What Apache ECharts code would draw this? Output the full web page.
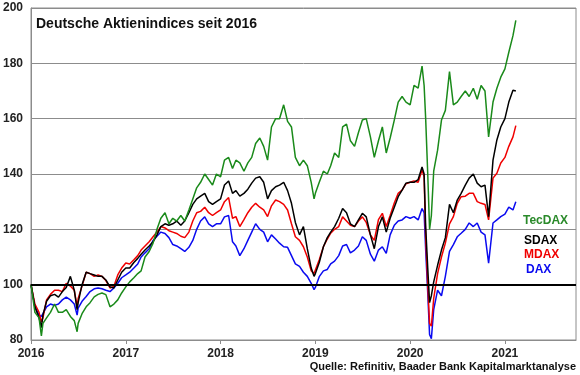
<!DOCTYPE html>
<html>
<head>
<meta charset="utf-8">
<script src="https://cdn.jsdelivr.net/npm/echarts@6/dist/echarts.min.js"></script>
<style>
  html, body { margin: 0; padding: 0; background: #fff; }
  #chart { width: 580px; height: 375px; }
</style>
</head>
<body>
<div id="chart"></div>
<script>
// Index values rebased to 100 at start of 2016 (roughly semi-monthly)
const dates = [
  '2016-01-01', '2016-01-16', '2016-02-01', '2016-02-10', '2016-02-16', '2016-03-01', '2016-03-16',
  '2016-04-01', '2016-04-16', '2016-05-01', '2016-05-16', '2016-06-01', '2016-06-16', '2016-06-27',
  '2016-07-01', '2016-07-16', '2016-08-01', '2016-08-16', '2016-09-01', '2016-09-16', '2016-10-01',
  '2016-10-16', '2016-11-01', '2016-11-16', '2016-12-01', '2016-12-16',
  '2017-01-01', '2017-01-16', '2017-02-01', '2017-02-16', '2017-03-01', '2017-03-16', '2017-04-01',
  '2017-04-16', '2017-05-01', '2017-05-16', '2017-06-01', '2017-06-16', '2017-07-01', '2017-07-16',
  '2017-08-01', '2017-08-16', '2017-09-01', '2017-09-16', '2017-10-01', '2017-10-16', '2017-11-01',
  '2017-11-16', '2017-12-01', '2017-12-16',
  '2018-01-01', '2018-01-16', '2018-02-01', '2018-02-16', '2018-03-01', '2018-03-16', '2018-04-01',
  '2018-04-16', '2018-05-01', '2018-05-16', '2018-06-01', '2018-06-16', '2018-07-01', '2018-07-16',
  '2018-08-01', '2018-08-16', '2018-09-01', '2018-09-16', '2018-10-01', '2018-10-16', '2018-11-01',
  '2018-11-16', '2018-12-01', '2018-12-16', '2018-12-27',
  '2019-01-01', '2019-01-16', '2019-02-01', '2019-02-16', '2019-03-01', '2019-03-16', '2019-04-01',
  '2019-04-16', '2019-05-01', '2019-05-16', '2019-06-01', '2019-06-16', '2019-07-01', '2019-07-16',
  '2019-08-01', '2019-08-16', '2019-09-01', '2019-09-16', '2019-10-01', '2019-10-16', '2019-11-01',
  '2019-11-16', '2019-12-01', '2019-12-16',
  '2020-01-01', '2020-01-16', '2020-02-01', '2020-02-16', '2020-02-24', '2020-03-01', '2020-03-09',
  '2020-03-16', '2020-03-23', '2020-04-01', '2020-04-16', '2020-05-01', '2020-05-16', '2020-06-01',
  '2020-06-16', '2020-07-01', '2020-07-16', '2020-08-01', '2020-08-16', '2020-09-01', '2020-09-16',
  '2020-10-01', '2020-10-16', '2020-10-30', '2020-11-16', '2020-12-01', '2020-12-16',
  '2021-01-01', '2021-01-16', '2021-02-01', '2021-02-12'
]

const tecdax = [
  100, 90, 88, 81.5, 86, 88, 90, 93, 90, 90, 91, 88.5, 87, 83, 86, 89.5, 92, 93.5, 95.6, 96.5, 97, 96.4, 92, 93, 94.5, 97,
  99.2, 101, 102.5, 104, 105, 110, 112, 115, 120, 124, 126, 122, 124, 123, 125, 123, 127, 131, 135, 137, 140, 138, 136, 140,
  139, 145, 146, 142, 145, 144, 141, 144, 146, 151, 153, 150, 145, 157, 160, 160, 165, 159, 157, 146, 143, 145, 143, 137, 131,
  133, 137, 141, 140, 143, 147.6, 146, 157, 158, 152, 150, 155, 159.5, 160, 153.4, 146, 152, 157, 147.6, 153, 159.5, 166, 168, 166,
  165, 172, 171, 179, 172, 160, 140, 120, 125, 141, 148.6, 159.5, 163, 177, 165, 166, 168, 170, 168, 171, 167, 172, 170, 153.4, 166, 171, 175,
  178, 184, 190, 195.5
]
const sdax = [
  100, 92, 88, 84.5, 89, 94, 96, 96.5, 95.5, 97.5, 99, 103, 98, 91, 93.5, 100, 104.5, 104, 103.5, 103, 103, 101.7, 99.2, 98.8, 101.7, 104.5,
  106, 106, 108, 109.5, 111, 112.5, 114, 115.5, 118, 121, 122, 121.5, 122, 123, 121.5, 123, 126, 129, 131, 132, 133, 130, 129, 130,
  131, 136, 137.5, 133, 134, 132, 133, 134.5, 136.7, 138.5, 139, 137, 131, 134, 135.4, 136, 137, 134, 129.4, 122.5, 118, 121, 113, 106, 103,
  104, 108, 113.7, 117, 119, 121, 124, 127.5, 126, 122, 121, 123.4, 125.8, 124.5, 118, 113, 121, 124.5, 119, 124, 128, 131.8, 134.2, 136.7,
  137, 137, 138, 142.5, 140, 121, 106, 93.5, 96, 101, 107, 112.5, 117, 129, 126, 130.6, 133, 136, 138.5, 140, 136.7, 135.4, 136, 124.6, 145, 152.3, 157,
  160, 166, 170.3, 170
]
const mdax = [
  100, 93, 90, 86.5, 88, 94.5, 96.5, 98, 98, 97.5, 100.5, 99.5, 98, 92, 95, 99.5, 104.5, 104, 103, 103.5, 103, 101.5, 98.8, 99.4, 103.5, 106,
  107.8, 107.5, 109, 110.5, 112.5, 114, 115.5, 117.3, 119, 121, 120.5, 119.5, 119, 118.5, 117.5, 117, 119, 123, 126, 126.5, 128, 126, 125, 126,
  127, 130, 131.5, 124, 124.6, 121, 123.5, 126, 128, 129.4, 128, 127, 124.6, 128.5, 130.6, 130, 129, 127, 122, 117.3, 116, 113.7, 110, 105, 104,
  104.5, 109, 113.7, 116.5, 118.6, 120, 121, 124.5, 123, 121.5, 121, 123, 124.5, 122.5, 118, 116, 123.5, 125.8, 121, 125, 129.5, 133, 134.2, 136.5,
  137, 137.5, 137, 141.4, 139, 117, 100, 86, 85, 95, 104, 110, 115, 122, 124.6, 129.4, 131.8, 132, 133, 133, 130, 129.4, 129, 123.4, 138.5, 140.3, 144,
  146, 150, 153.4, 157.5
]
const dax = [
  100, 92, 89, 88.5, 89.5, 92, 93, 92.5, 93, 94.5, 95.5, 94.5, 93, 89, 91.5, 94, 95.7, 97.5, 98.5, 98.8, 98.5, 98, 97.5, 98.8, 100.5, 102.5,
  103.5, 104.5, 106, 107.5, 110, 111.5, 113, 116, 117.5, 119, 118.5, 117, 114.5, 114, 113, 112, 113.5, 116, 120, 123, 124.5, 122, 121, 122,
  122, 124.5, 125, 115.5, 114, 110.5, 113, 116, 119, 122, 120, 119, 115.5, 118, 116.5, 115, 113.7, 113.5, 110.5, 107.5, 106.6, 104.5, 103, 100.5, 98.2,
  99, 102.9, 105, 105.5, 107.5, 108.5, 110.5, 114, 114.5, 111.5, 112.5, 114, 117.3, 116, 111, 108.5, 112.5, 113.7, 111.3, 118, 121.5, 123, 123.4, 124.6,
  124, 124.6, 123.4, 127.5, 126, 112.5, 97, 82, 80.5, 91, 98, 96, 103, 112, 114.5, 117.3, 118.6, 120, 122.3, 121, 122.3, 119, 118, 107.8, 122.3, 123.4, 124.6,
  125.5, 128, 127, 130
]

const yearTicks = [2016, 2017, 2018, 2019, 2020, 2021]

const FONT = '"Liberation Sans", Arial, sans-serif'

// date string -> fractional year, so the axis can tick once per year
function toYear(s) {
  const d = new Date(s + 'T00:00:00Z')
  const y = d.getUTCFullYear()
  const start = Date.UTC(y, 0, 1)
  const end = Date.UTC(y + 1, 0, 1)
  return y + (d.getTime() - start) / (end - start)
}

function pairs(values) {
  return values.map((v, i) => [toYear(dates[i]), v])
}

function makeLine(name, values, color) {
  return {
    name: name,
    type: 'line',
    data: pairs(values),
    showSymbol: false,
    lineStyle: { color: color, width: 1.5 },
    itemStyle: { color: color },
    z: 3
  }
}

const chart = echarts.init(document.getElementById('chart'))

const series = [
  makeLine('DAX', dax, '#0a0af0'),
  makeLine('MDAX', mdax, '#f00000'),
  makeLine('SDAX', sdax, '#000000'),
  makeLine('TecDAX', tecdax, '#1a8a1a')
]
series[0].markLine = {
  silent: true,
  symbol: 'none',
  label: { show: false },
  lineStyle: { color: '#000', width: 2, type: 'solid' },
  data: [{ yAxis: 100 }]
}

chart.setOption({
  animation: false,
  backgroundColor: '#fff',
  title: {
    text: 'Deutsche Aktienindices seit 2016',
    left: 31,
    top: 12,
    textStyle: { fontFamily: FONT, fontSize: 14, fontWeight: 'bold', color: '#111' }
  },
  grid: {
    left: 30,
    right: 4,
    top: 8,
    bottom: 35,
    show: true,
    borderColor: '#8c8c8c',
    borderWidth: 1
  },
  xAxis: {
    type: 'value',
    min: 2016,
    max: 2021.75,
    interval: 1,
    axisLine: { lineStyle: { color: '#8c8c8c', width: 1 } },
    axisTick: { show: true, length: 4, lineStyle: { color: '#8c8c8c' } },
    splitLine: { show: false },
    axisLabel: {
      margin: 8,
      fontFamily: FONT,
      fontSize: 12,
      fontWeight: 'bold',
      color: '#222',
      showMaxLabel: false,
      formatter: v => (yearTicks.indexOf(v) >= 0 ? String(v) : '')
    }
  },
  yAxis: {
    type: 'value',
    min: 80,
    max: 200,
    interval: 20,
    axisLine: { show: true, lineStyle: { color: '#8c8c8c', width: 1 } },
    axisTick: { show: false },
    splitLine: { lineStyle: { color: '#8c8c8c', width: 1 } },
    axisLabel: {
      margin: 8,
      fontFamily: FONT,
      fontSize: 12,
      fontWeight: 'bold',
      color: '#222'
    }
  },
  graphic: [
    { type: 'text', left: 523, top: 215, style: { text: 'TecDAX', fill: '#2a8a2a', font: 'bold 12px ' + FONT } },
    { type: 'text', left: 524, top: 235, style: { text: 'SDAX', fill: '#000', font: 'bold 12px ' + FONT } },
    { type: 'text', left: 524, top: 249, style: { text: 'MDAX', fill: '#f00000', font: 'bold 12px ' + FONT } },
    { type: 'text', left: 526, top: 264, style: { text: 'DAX', fill: '#0a0af0', font: 'bold 12px ' + FONT } },
    {
      type: 'text', right: 4, top: 361,
      style: { text: 'Quelle: Refinitiv, Baader Bank Kapitalmarktanalyse', fill: '#111', font: 'bold 11px ' + FONT }
    }
  ],
  series: series
})
</script>
</body>
</html>
